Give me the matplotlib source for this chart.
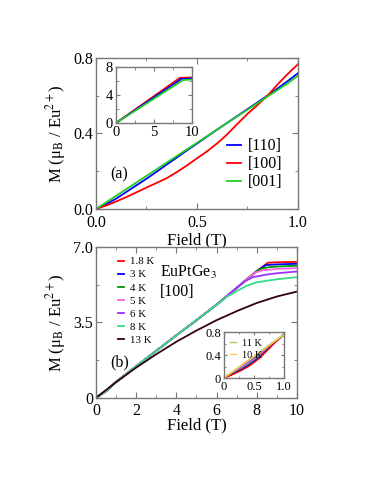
import matplotlib
matplotlib.use('Agg')
import matplotlib.pyplot as plt
from matplotlib.ticker import MultipleLocator, FixedLocator

plt.rcParams['font.family'] = ['Liberation Serif', 'DejaVu Serif']
plt.rcParams['mathtext.fontset'] = 'stix'

# ---- panel (a): low field, three directions ----
field_a = [0, 0.05, 0.1, 0.15, 0.2, 0.25, 0.3, 0.35, 0.4, 0.45, 0.5,
           0.55, 0.6, 0.65, 0.7, 0.75, 0.8, 0.85, 0.9, 0.95, 1.0]
m_110 = [0, 0.025, 0.055, 0.09, 0.125, 0.16, 0.197, 0.235, 0.272, 0.31, 0.346,
         0.383, 0.42, 0.456, 0.492, 0.528, 0.564, 0.6, 0.638, 0.677, 0.718]
m_100 = [0, 0.018, 0.04, 0.063, 0.088, 0.113, 0.138, 0.163, 0.195, 0.23, 0.268,
         0.305, 0.347, 0.395, 0.45, 0.503, 0.55, 0.6, 0.66, 0.715, 0.765]
m_001 = [0, 0.035, 0.07, 0.105, 0.14, 0.175, 0.21, 0.245, 0.28, 0.315, 0.35,
         0.385, 0.42, 0.455, 0.49, 0.525, 0.56, 0.595, 0.63, 0.665, 0.705]

# inset (a): full field range
h_ins_100 = [0, 8.4, 10]
m_ins_100 = [0, 6.45, 6.5]
h_ins_110 = [0, 8.6, 10]
m_ins_110 = [0, 6.3, 6.35]
h_ins_001 = [0, 8.85, 10]
m_ins_001 = [0, 6.15, 6.2]

# ---- panel (b): [100] at several temperatures ----
h_low = [0, 0.5, 1, 1.5, 2, 3, 4, 5, 6]
m_low = [0, 0.3, 0.74, 1.1, 1.46, 2.18, 2.9, 3.6, 4.32]

h_18 = [7, 7.5, 8, 8.55, 9, 10]
m_18 = [5.1, 5.5, 5.88, 6.27, 6.29, 6.31]
h_3 = [7, 7.5, 8, 8.45, 9, 10]
m_3 = [5.1, 5.5, 5.88, 6.16, 6.19, 6.22]
h_4 = [7, 7.5, 8, 8.25, 8.6, 9, 10]
m_4 = [5.1, 5.5, 5.88, 6.0, 6.06, 6.09, 6.13]
h_5 = [7, 7.5, 7.9, 8.3, 9, 10]
m_5 = [5.1, 5.5, 5.8, 5.92, 5.98, 6.02]
h_6 = [7, 7.4, 7.8, 8.5, 9, 10]
m_6 = [5.1, 5.4, 5.6, 5.72, 5.78, 5.86]
h_8 = [6.2, 6.5, 7, 7.5, 8, 9, 10]
m_8 = [4.46, 4.68, 4.95, 5.2, 5.36, 5.5, 5.6]
h_13 = [0, 1, 2, 3, 4, 5, 6, 7, 8, 9, 10]
m_13 = [0, 0.72, 1.4, 2.02, 2.6, 3.12, 3.6, 4.02, 4.4, 4.7, 4.93]

temps_b = ['1.8 K', '3 K', '4 K', '5 K', '6 K', '8 K', '13 K']
colors_b = ['#ff0000', '#0000ff', '#009900', '#ff66dd', '#9933ff', '#33dd88',
            '#33000f']

# inset (b): 0 - 1 T
h_bi = [0, 0.1, 0.2, 0.3, 0.4, 0.5, 0.6, 0.7, 0.8, 0.9, 1.0]
mi_18 = [0, 0.04, 0.088, 0.138, 0.195, 0.27, 0.35, 0.455, 0.565, 0.665, 0.766]
mi_3 = [0, 0.045, 0.095, 0.15, 0.21, 0.285, 0.365, 0.465, 0.57, 0.665, 0.76]
mi_4 = [0, 0.05, 0.105, 0.16, 0.225, 0.3, 0.38, 0.475, 0.575, 0.668, 0.76]
mi_5 = [0, 0.055, 0.115, 0.175, 0.245, 0.32, 0.4, 0.49, 0.58, 0.67, 0.76]
mi_6 = [0, 0.06, 0.125, 0.19, 0.265, 0.34, 0.42, 0.5, 0.59, 0.675, 0.76]
mi_8 = [0, 0.068, 0.14, 0.215, 0.29, 0.37, 0.45, 0.53, 0.61, 0.685, 0.76]
mi_13 = [0, 0.072, 0.145, 0.22, 0.295, 0.37, 0.445, 0.52, 0.595, 0.67, 0.745]
mi_11 = [0, 0.075, 0.152, 0.23, 0.305, 0.38, 0.455, 0.53, 0.605, 0.68, 0.755]
mi_10 = [0, 0.074, 0.15, 0.226, 0.302, 0.378, 0.452, 0.528, 0.603, 0.678, 0.755]

SPINE = '#777777'
LW = 1.3
YLABEL = 'M (μ$_{\\rm B}$ / Eu$^{2+}$)'


def style_axes(ax, size, pad=2):
    for sp in ax.spines.values():
        sp.set_color(SPINE)
        sp.set_linewidth(1.0)
    ax.tick_params(which='both', direction='in', top=True, right=True,
                   color=SPINE, labelsize=size, pad=pad)
    ax.tick_params(which='major', length=4)
    ax.tick_params(which='minor', length=2.5)


fig = plt.figure(figsize=(3.74, 4.84), dpi=100)

# panel (a)
ax1 = fig.add_axes([0.2567, 0.5682, 0.540, 0.3126])
ax1.plot(field_a, m_110, color='#0000ff', lw=LW, label='[110]')
ax1.plot(field_a, m_100, color='#ff0000', lw=LW, label='[100]')
ax1.plot(field_a, m_001, color='#22cc22', lw=LW, label='[001]')
ax1.set_xlim(0, 1)
ax1.set_ylim(0, 0.8)
ax1.xaxis.set_major_locator(FixedLocator([0, 0.5, 1.0]))
ax1.xaxis.set_minor_locator(FixedLocator([0.25, 0.75]))
ax1.yaxis.set_major_locator(FixedLocator([0, 0.4, 0.8]))
ax1.yaxis.set_minor_locator(FixedLocator([0.2, 0.6]))
ax1.set_xticklabels(['0.0', '0.5', '1.0'])
ax1.set_yticklabels(['0.0', '0.4', '0.8'])
style_axes(ax1, 11.5)
ax1.tick_params(axis='x', pad=4.5)
ax1.set_xlabel('Field (T)', fontsize=12, fontweight='normal', labelpad=0.5)
ax1.set_ylabel(YLABEL, fontsize=12, labelpad=4)
ax1.legend(loc='lower right', bbox_to_anchor=(0.97, 0.06), frameon=False,
           fontsize=11.5, handlelength=0.9, handletextpad=0.4,
           labelspacing=0.12, borderaxespad=0.2)
ax1.text(0.07, 0.231, '(a)', transform=ax1.transAxes, fontsize=11.5,
         va='center')

ins1 = fig.add_axes([0.3102, 0.7459, 0.2032, 0.1157])
ins1.plot(h_ins_100, m_ins_100, color='#ff0000', lw=LW)
ins1.plot(h_ins_110, m_ins_110, color='#0000ff', lw=LW)
ins1.plot(h_ins_001, m_ins_001, color='#22cc22', lw=LW)
ins1.set_xlim(0, 10)
ins1.set_ylim(0, 8)
ins1.xaxis.set_major_locator(FixedLocator([0, 5, 10]))
ins1.xaxis.set_minor_locator(FixedLocator([2.5, 7.5]))
ins1.yaxis.set_major_locator(FixedLocator([0, 4, 8]))
ins1.yaxis.set_minor_locator(FixedLocator([2, 6]))
style_axes(ins1, 10.5)
ins1.tick_params(which='major', length=3)
ins1.tick_params(which='minor', length=2)

# panel (b)
ax2 = fig.add_axes([0.2567, 0.1783, 0.5374, 0.3114])
tails = [(h_18, m_18), (h_3, m_3), (h_4, m_4), (h_5, m_5), (h_6, m_6),
         (h_8, m_8)]
for (ht, mt), lab, c in zip(tails, temps_b[:6], colors_b[:6]):
    ax2.plot(h_low + ht, m_low + mt, color=c, lw=LW, label=lab)
ax2.plot(h_13, m_13, color=colors_b[6], lw=LW, label=temps_b[6])
ax2.set_xlim(0, 10)
ax2.set_ylim(0, 7)
ax2.xaxis.set_major_locator(MultipleLocator(2))
ax2.xaxis.set_minor_locator(MultipleLocator(1))
ax2.yaxis.set_major_locator(FixedLocator([0, 3.5, 7.0]))
ax2.yaxis.set_minor_locator(FixedLocator([1.75, 5.25]))
ax2.set_yticklabels(['0', '3.5', '7.0'])
style_axes(ax2, 11.5)
ax2.tick_params(axis='x', pad=4)
ax2.set_xlabel('Field (T)', fontsize=12, fontweight='normal', labelpad=-1)
ax2.set_ylabel(YLABEL, fontsize=12, labelpad=4)
ax2.legend(loc='upper left', bbox_to_anchor=(0.06, 1.0), frameon=False,
           fontsize=7.8, handlelength=0.6, handletextpad=0.5,
           labelspacing=0.33, borderaxespad=0.5)
ax2.text(0.32, 0.83, r'EuPtGe$_3$', transform=ax2.transAxes, fontsize=11.5,
         va='center')
ax2.text(0.32, 0.70, '[100]', transform=ax2.transAxes, fontsize=11.5,
         va='center')
ax2.text(0.07, 0.237, '(b)', transform=ax2.transAxes, fontsize=11.5,
         va='center')

ins2 = fig.add_axes([0.5989, 0.219, 0.1604, 0.095])
for mi, c in zip([mi_13, mi_8, mi_6, mi_5, mi_4, mi_3, mi_18], colors_b[::-1]):
    ins2.plot(h_bi, mi, color=c, lw=1.0)
ins2.plot(h_bi, mi_11, color='#bbbb66', lw=1.0, label='11 K')
ins2.plot(h_bi, mi_10, color='#ffcc55', lw=1.0, label='10 K')
ins2.set_xlim(0, 1)
ins2.set_ylim(0, 0.8)
ins2.xaxis.set_major_locator(FixedLocator([0, 0.5, 1.0]))
ins2.xaxis.set_minor_locator(FixedLocator([0.25, 0.75]))
ins2.yaxis.set_major_locator(FixedLocator([0, 0.4, 0.8]))
ins2.yaxis.set_minor_locator(FixedLocator([0.2, 0.6]))
ins2.set_xticklabels(['0', '0.5', '1.0'])
ins2.set_yticklabels(['0', '0.4', '0.8'])
style_axes(ins2, 9)
ins2.tick_params(which='major', length=2.5)
ins2.tick_params(which='minor', length=1.5)
ins2.legend(loc='upper left', frameon=False, fontsize=7.5, handlelength=0.6,
            handletextpad=0.5, labelspacing=0.3, borderaxespad=0.2)

fig.savefig('out.png', dpi=100)
